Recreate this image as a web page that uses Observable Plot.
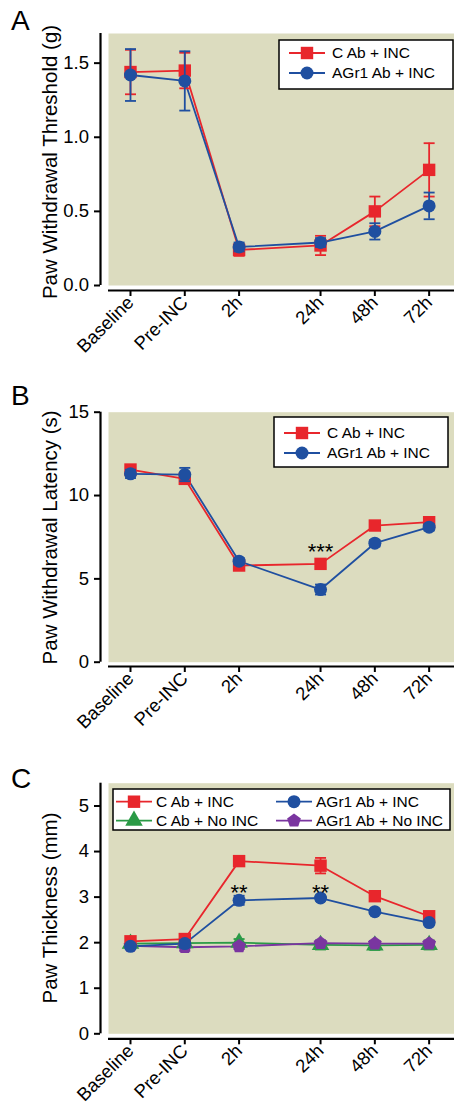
<!DOCTYPE html>
<html><head><meta charset="utf-8">
<script src="https://cdn.jsdelivr.net/npm/d3@7"></script>
<script src="https://cdn.jsdelivr.net/npm/@observablehq/plot@0.6"></script>
<style>
body{margin:0;background:#fff;}
#root{position:relative;width:454px;height:1110px;overflow:hidden;font-family:"Liberation Sans",Arial,sans-serif;}
#root svg{position:absolute;left:0;overflow:visible;}
</style></head><body><div id="root"></div>
<script>
// ---------- data ----------
const timeLabels = ["Baseline", "Pre-INC", "2h", "24h", "48h", "72h"];
const timePos = [0, 1, 2, 3.5, 4.5, 5.5];

const seriesNames = ["C Ab + INC", "AGr1 Ab + INC", "C Ab + No INC", "AGr1 Ab + No INC"];

// Panel A: Paw Withdrawal Threshold (g)
const aCAbInc = [1.44, 1.45, 0.24, 0.27, 0.50, 0.78];
const aCAbIncErr = [0.15, 0.12, 0.04, 0.065, 0.10, 0.18];
const aAGr1Inc = [1.42, 1.38, 0.26, 0.29, 0.365, 0.537];
const aAGr1IncErr = [0.175, 0.20, 0.03, 0.03, 0.055, 0.09];
const aTicks = [0, 0.5, 1.0, 1.5];

// Panel B: Paw Withdrawal Latency (s)
const bCAbInc = [11.56, 11.0, 5.8, 5.9, 8.2, 8.4];
const bCAbIncErr = [0.25, 0.3, 0.25, 0.2, 0.2, 0.15];
const bAGr1Inc = [11.3, 11.26, 6.06, 4.36, 7.14, 8.1];
const bAGr1IncErr = [0.25, 0.4, 0.2, 0.3, 0.2, 0.2];
const bTicks = [0, 5, 10, 15];
const bNotes = [{time: "24h", y: 6.6, text: "***"}];

// Panel C: Paw Thickness (mm)
const cCAbInc = [2.03, 2.08, 3.79, 3.69, 3.02, 2.58];
const cCAbIncErr = [0.05, 0.05, 0.08, 0.17, 0.06, 0.06];
const cAGr1Inc = [1.92, 1.98, 2.93, 2.98, 2.68, 2.44];
const cAGr1IncErr = [0.05, 0.08, 0.10, 0.06, 0.05, 0.06];
const cCAbNo = [1.98, 1.99, 2.0, 1.95, 1.94, 1.95];
const cCAbNoErr = [0.08, 0.05, 0.08, 0.10, 0.10, 0.10];
const cAGr1No = [1.93, 1.90, 1.92, 1.99, 1.98, 1.98];
const cAGr1NoErr = [0.05, 0.08, 0.06, 0.05, 0.05, 0.05];
const cTicks = [0, 1, 2, 3, 4, 5];
const cNotes = [{time: "2h", y: 3.1, text: "**"}, {time: "24h", y: 3.1, text: "**"}];

// ---------- styles ----------
const BG = "#dcdcbf";
const RED = "#e8262c", BLUE = "#1f4fa0", GREEN = "#2a9a46", PURPLE = "#7a35a0";
const FONT = "Liberation Sans, Arial, sans-serif";

const pentagon = {draw(ctx, size) {
  const R = Math.sqrt(size / 2.378);
  for (let k = 0; k < 5; k++) {
    const a = -Math.PI / 2 + k * 2 * Math.PI / 5;
    if (k === 0) ctx.moveTo(R * Math.cos(a), R * Math.sin(a)); else ctx.lineTo(R * Math.cos(a), R * Math.sin(a));
  }
  ctx.closePath();
}};
const capSym = {draw(ctx, size) {
  const h = Math.sqrt(size / Math.PI);
  ctx.moveTo(-h, 0); ctx.lineTo(h, 0);
}};
const symbolMap = {square: d3.symbolSquare, circle: d3.symbolCircle, triangle: d3.symbolTriangle, pentagon};

const root = document.getElementById("root");

function panel(cfg) {
  const xDomain = [-0.405, 5.967];
  const marks = [
    Plot.frame({fill: BG, stroke: null, insetLeft: 8, insetBottom: cfg.yInset}),
    Plot.ruleX([xDomain[0]], {y1: cfg.yDomain[0], y2: cfg.yDomain[1], dx: -8, strokeWidth: 2.2, stroke: "#000"}),
    Plot.ruleY([cfg.yDomain[0]], {x1: xDomain[0], x2: xDomain[1], dy: cfg.yInset, strokeWidth: 2.2, stroke: "#000"}),
    Plot.axisY({ticks: cfg.yTicks, tickFormat: cfg.yFormat, tickSize: 6, tickPadding: 5.5, strokeWidth: 2, fontSize: 18.5, label: null, fill: "#000", stroke: "#000"}),
    Plot.axisX({ticks: timePos, tickFormat: d => timeLabels[timePos.indexOf(d)], tickSize: 6, tickPadding: 3, strokeWidth: 2, tickRotate: -45, fontSize: 18.5, label: null, fill: "#000", stroke: "#000"}),
    Plot.text([cfg.yLabel], {frameAnchor: "left", textAnchor: "middle", lineAnchor: "middle", rotate: -90, dx: -50, dy: cfg.labelDy || 0, fontSize: 20.5, fill: "#000"})
  ];
  const rowsOf = s => timePos.map((x, i) => ({x, y: s.values[i], e: s.errors[i]}));
  for (const s of cfg.series) marks.push(Plot.line(rowsOf(s), {x: "x", y: "y", stroke: s.color, strokeWidth: 1.8}));
  for (const s of cfg.series) {
    const rows = rowsOf(s).filter(d => d.e > 0);
    marks.push(
      Plot.ruleX(rows, {x: "x", y1: d => d.y - d.e, y2: d => d.y + d.e, stroke: s.color, strokeWidth: 1.8}),
      Plot.dot(rows, {x: "x", y: d => d.y + d.e, r: 5.5, symbol: capSym, stroke: s.color, strokeWidth: 1.8, fill: "none"}),
      Plot.dot(rows, {x: "x", y: d => d.y - d.e, r: 5.5, symbol: capSym, stroke: s.color, strokeWidth: 1.8, fill: "none"}),
      Plot.dot(rowsOf(s), {x: "x", y: "y", r: s.r, symbol: symbolMap[s.symbol], fill: s.color, stroke: "none"})
    );
  }
  if (cfg.notes) marks.push(Plot.text(cfg.notes, {x: d => timePos[timeLabels.indexOf(d.time)], y: "y", text: "text", fontSize: 22, fill: "#000"}));
  const svg = Plot.plot({
    width: 454, height: cfg.height,
    marginTop: cfg.marginTop, marginBottom: cfg.marginBottom, marginLeft: 100, marginRight: 0,
    style: {fontFamily: FONT, background: "transparent", color: "#000"},
    x: {type: "linear", domain: xDomain, insetLeft: 8},
    y: {domain: cfg.yDomain, insetBottom: cfg.yInset},
    marks
  });
  svg.style.top = cfg.top + "px";
  root.appendChild(svg);
}

const sCAbInc = (v, e) => ({name: seriesNames[0], values: v, errors: e, color: RED, symbol: "square", r: 7});
const sAGr1Inc = (v, e) => ({name: seriesNames[1], values: v, errors: e, color: BLUE, symbol: "circle", r: 6.5});
const sCAbNo = (v, e) => ({name: seriesNames[2], values: v, errors: e, color: GREEN, symbol: "triangle", r: 6.5});
const sAGr1No = (v, e) => ({name: seriesNames[3], values: v, errors: e, color: PURPLE, symbol: "pentagon", r: 6.3});

panel({top: 0, height: 370, marginTop: 33, marginBottom: 80, yInset: 5, yDomain: [0, 1.7], yTicks: aTicks,
  yFormat: d3.format(".1f"), yLabel: "Paw Withdrawal Threshold (g)",
  series: [sCAbInc(aCAbInc, aCAbIncErr), sAGr1Inc(aAGr1Inc, aAGr1IncErr)]});
panel({top: 370, height: 365, marginTop: 41.7, marginBottom: 69, yInset: 4.3, yDomain: [0, 15], yTicks: bTicks,
  yFormat: d3.format("d"), yLabel: "Paw Withdrawal Latency (s)", labelDy: -2,
  series: [sCAbInc(bCAbInc, bCAbIncErr), sAGr1Inc(bAGr1Inc, bAGr1IncErr)], notes: bNotes});
panel({top: 735, height: 375, marginTop: 47.7, marginBottom: 71.7, yInset: 5, yDomain: [0, 5.5], yTicks: cTicks,
  yFormat: d3.format("d"), yLabel: "Paw Thickness (mm)", labelDy: -3,
  series: [sCAbNo(cCAbNo, cCAbNoErr), sAGr1No(cAGr1No, cAGr1NoErr), sCAbInc(cCAbInc, cCAbIncErr), sAGr1Inc(cAGr1Inc, cAGr1IncErr)], notes: cNotes});

// ---------- overlay: panel letters and legends ----------
const ov = d3.select(root).append("svg").attr("width", 454).attr("height", 1110).style("top", "0px")
  .style("font-family", FONT);
[["A", 30], ["B", 405], ["C", 788]].forEach(([t, y]) =>
  ov.append("text").attr("x", 11).attr("y", y).attr("font-size", 28).text(t));

function legend(box, entries) {
  const g = ov.append("g").attr("transform", `translate(${box.x},${box.y})`);
  g.append("rect").attr("width", box.w).attr("height", box.h).attr("fill", "#fff").attr("stroke", "#000").attr("stroke-width", 1.5);
  for (const e of entries) {
    g.append("line").attr("x1", e.lx).attr("x2", e.lx + box.len).attr("y1", e.y).attr("y2", e.y)
      .attr("stroke", e.s.color).attr("stroke-width", 1.8);
    g.append("path").attr("transform", `translate(${e.lx + box.len / 2},${e.y})`)
      .attr("d", d3.symbol(symbolMap[e.s.symbol], Math.PI * e.s.r * e.s.r)()).attr("fill", e.s.color);
    g.append("text").attr("x", e.lx + box.len + box.gap).attr("y", e.y).attr("dy", "0.35em")
      .attr("font-size", 15.5).text(e.s.name);
  }
}
const sR = sCAbInc([], []), sB = sAGr1Inc([], []), sG = sCAbNo([], []), sP = sAGr1No([], []);
legend({x: 279, y: 40, w: 174, h: 49, len: 36, gap: 7}, [{s: sR, lx: 10, y: 13}, {s: sB, lx: 10, y: 33}]);
legend({x: 274, y: 417, w: 174, h: 50, len: 36, gap: 7}, [{s: sR, lx: 10, y: 16}, {s: sB, lx: 10, y: 36}]);
legend({x: 113, y: 789, w: 337, h: 41, len: 36, gap: 4}, [
  {s: sR, lx: 3, y: 12.7}, {s: sB, lx: 163, y: 12.7}, {s: sG, lx: 3, y: 31.7}, {s: sP, lx: 163, y: 31.7}]);
</script></body></html>
